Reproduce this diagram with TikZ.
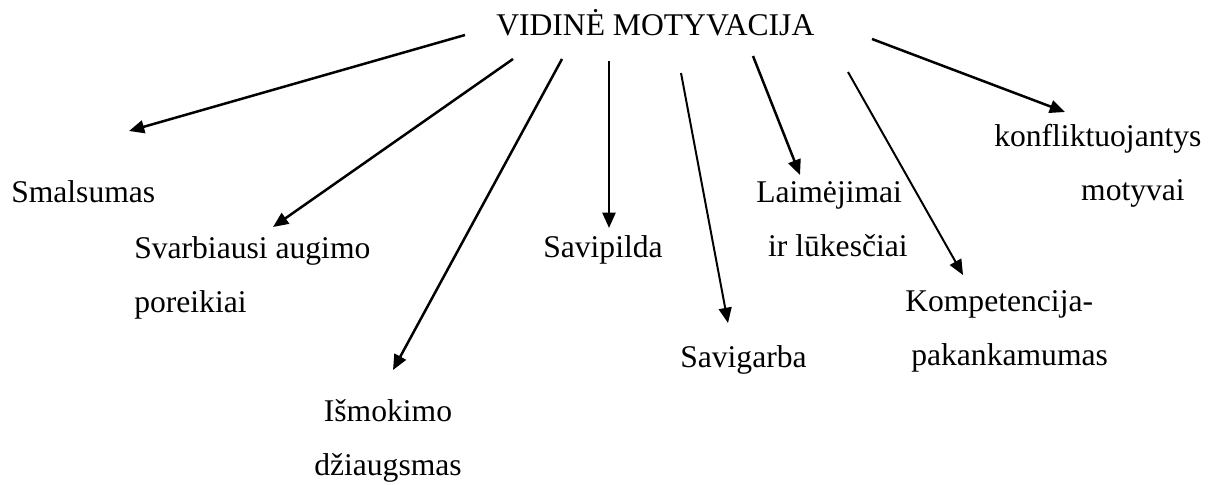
\documentclass[tikz,border=0pt]{standalone}
\usepackage{fontspec}
\setmainfont{Liberation Serif}
\usetikzlibrary{arrows.meta}

\begin{document}
\begin{tikzpicture}[x=0.3797pt, y=-0.3797pt, line width=0.95pt,
    >={Triangle[length=5.8pt,width=4.9pt]},
    every node/.style={inner sep=0pt, anchor=base west, align=left,
        font=\fontsize{12}{20.5}\selectfont},
    lighter/.style={line width=0.75pt}]
    \useasboundingbox (0,0) rectangle (1219,484);

    % two-line labels sit on the baseline of their last line
    \node (vm) at (495,35) {VIDINĖ MOTYVACIJA};
    \node (smal) at (10,202) {Smalsumas};
    \node (svarb) at (133,312) {Svarbiausi augimo\\poreikiai};
    \node[anchor=base, align=center] (ism) at (388,475) {Išmokimo\\džiaugsmas};
    \node (savip) at (542,257) {Savipilda};
    \node (savig) at (679,367) {Savigarba};
    \node (laim) at (755,256) {Laimėjimai\\\hspace*{4.5pt}ir lūkesčiai};
    \node (komp) at (904,365) {Kompetencija-\\\hspace*{2.3pt}pakankamumas};
    \node (konf) at (993,200) {konfliktuojantys\\\hspace*{33pt}motyvai};

    % arrow ends
    \coordinate (from_1) at (465,35);  \coordinate (to_1) at (129,131);
    \coordinate (from_2) at (513,59);  \coordinate (to_2) at (273,227);
    \coordinate (from_3) at (562,59);  \coordinate (to_3) at (393,370);
    \coordinate (from_4) at (609,61);  \coordinate (to_4) at (609,228);
    \coordinate (from_5) at (681,73);  \coordinate (to_5) at (728,323);
    \coordinate (from_6) at (753,56);  \coordinate (to_6) at (800,175);
    \coordinate (from_7) at (848,72);  \coordinate (to_7) at (963,275);
    \coordinate (from_8) at (872,39);  \coordinate (to_8) at (1065,112);

    \path[->]
        (from_1) edge (to_1)
        (from_2) edge (to_2)
        (from_3) edge (to_3)
        (from_4) edge (to_4)
        (from_5) edge [lighter] (to_5)
        (from_6) edge (to_6)
        (from_7) edge [lighter] (to_7)
        (from_8) edge (to_8);
\end{tikzpicture}
\end{document}
